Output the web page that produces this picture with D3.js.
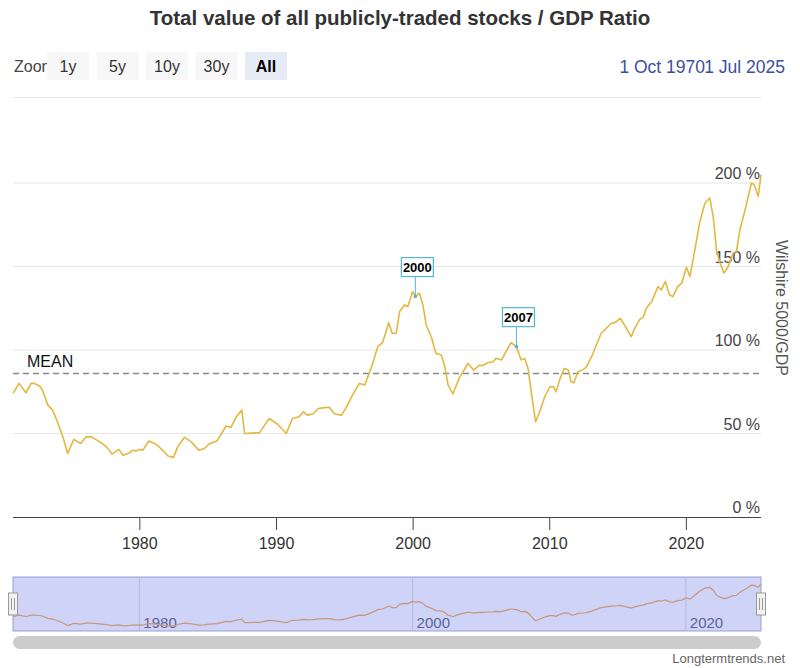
<!DOCTYPE html>
<html>
<head>
<meta charset="utf-8">
<script src="https://cdn.jsdelivr.net/npm/d3@7"></script>
<style>
  body { margin: 0; background: #fff; }
  svg { font-family: "Liberation Sans", Arial, sans-serif; }
</style>
</head>
<body>
<svg width="800" height="668"></svg>
<script>
// quarter-ish decimal years and the ratio in percent
const years = [
  1970.75, 1971.2, 1971.7, 1972.07, 1972.3, 1972.7, 1972.9, 1973.3, 1973.65, 1974.0,
  1974.4, 1974.75, 1975.2, 1975.7, 1976.1, 1976.5, 1977.1, 1977.6, 1978.0, 1978.5,
  1978.8, 1979.3, 1979.5, 1979.75, 1980.0, 1980.25, 1980.7, 1981.2, 1981.7, 1982.1,
  1982.5, 1982.8, 1983.3, 1983.8, 1984.35, 1984.76, 1985.1, 1985.7, 1986.35, 1986.7,
  1987.1, 1987.5, 1987.7, 1988.8, 1989.5, 1990.1, 1990.75, 1991.2, 1991.7, 1992.0,
  1992.3, 1992.7, 1993.1, 1993.55, 1993.9, 1994.3, 1994.8, 1995.1, 1995.6, 1996.1,
  1996.5, 1997.0, 1997.45, 1997.8, 1998.25, 1998.5, 1998.8, 1999.05, 1999.4, 1999.65,
  2000.0, 2000.2, 2000.5, 2000.75, 2001.0, 2001.4, 2001.7, 2002.1, 2002.33, 2002.6,
  2002.95, 2003.4, 2004.05, 2004.46, 2004.9, 2005.1, 2005.5, 2005.9, 2006.1, 2006.5,
  2006.9, 2007.2, 2007.6, 2007.95, 2008.2, 2008.45, 2008.7, 2009.0, 2009.3, 2009.67,
  2010.04, 2010.3, 2010.5, 2010.8, 2011.1, 2011.4, 2011.6, 2011.8, 2012.1, 2012.5,
  2012.7, 2013.1, 2013.45, 2013.8, 2014.55, 2014.8, 2015.2, 2015.5, 2016.0, 2016.26,
  2016.6, 2016.9, 2017.1, 2017.5, 2017.96, 2018.2, 2018.5, 2018.8, 2019.05, 2019.4,
  2019.7, 2020.04, 2020.3, 2020.66, 2021.0, 2021.4, 2021.75, 2022.0, 2022.24, 2022.5,
  2022.8, 2023.1, 2023.46, 2023.7, 2023.96, 2024.4, 2024.8, 2025.0, 2025.3, 2025.5
]
const ratio = [
  74, 80, 74.4, 80, 80, 78.4, 76, 67, 64, 57,
  48, 38, 46.5, 44, 48, 48, 45, 42, 37.7, 40.5,
  37, 38.5, 40, 39.5, 40.5, 40, 45.5, 43.7, 40, 36.5,
  35.7, 42, 47.7, 45, 40, 41, 43.7, 45.7, 54.5, 53.7,
  60, 64, 50, 50.5, 59, 55.7, 50, 59, 60, 63,
  61, 61.7, 65, 65.5, 65.7, 61.7, 61, 65, 73, 80,
  79, 90, 102, 104.4, 116.3, 110, 110, 123, 127, 126,
  135, 132, 134, 127, 115, 107, 98, 97, 91, 79,
  73.7, 83, 92, 88, 91, 90.6, 92.4, 93, 95, 94,
  100, 104.4, 102, 94, 95, 89, 74, 57, 63, 72,
  78, 78, 75, 83, 89, 88, 81, 80.4, 87, 88.4,
  89.6, 96, 103, 110, 116, 116.4, 119, 115, 108, 113,
  118, 120, 125, 129, 138, 136, 141, 133, 132, 138,
  140, 149.5, 144, 160, 176, 188, 191, 180, 160, 152,
  146, 150, 158, 159, 172, 186, 200, 199, 192, 205
]
const meanValue = 86
const yTicks = [0, 50, 100, 150, 200]
const xTicks = [1980, 1990, 2000, 2010, 2020]
const navTicks = [1980, 2000, 2020]
const zoomButtons = ["1y", "5y", "10y", "30y", "All"]
const annotationLabels = ["2000", "2007"]
const annotationYears = [2000.2, 2007.6]

let data = years.map((yr, i) => ({ year: yr, value: ratio[i] }))

let svg = d3.select("svg")

let x = d3.scaleLinear().domain([1970.75, 2025.5]).range([13, 761])
let y = d3.scaleLinear().domain([0, 200]).range([517, 183])

// title
svg.append("text")
  .attr("x", 400).attr("y", 25)
  .attr("text-anchor", "middle")
  .style("font-size", "20.5px").style("font-weight", "bold")
  .style("fill", "#333")
  .text("Total value of all publicly-traded stocks / GDP Ratio")

// range selector
svg.append("text")
  .attr("x", 14).attr("y", 72)
  .style("font-size", "16px").style("fill", "#444")
  .text("Zoom")

zoomButtons.forEach((b, i) => {
  let bx = 47 + i * 49.5
  svg.append("rect")
    .attr("x", bx).attr("y", 52)
    .attr("width", 42).attr("height", 28)
    .style("fill", b === "All" ? "#e6ebf5" : "#f7f7f7")
  svg.append("text")
    .attr("x", bx + 21).attr("y", 72)
    .attr("text-anchor", "middle")
    .style("font-size", "16px")
    .style("font-weight", b === "All" ? "bold" : "normal")
    .style("fill", b === "All" ? "#000" : "#333")
    .text(b)
})

svg.append("text")
  .attr("x", 705).attr("y", 73)
  .attr("text-anchor", "end")
  .style("font-size", "17.5px").style("fill", "#3b4fa0")
  .text("1 Oct 1970")
svg.append("text")
  .attr("x", 785).attr("y", 73)
  .attr("text-anchor", "end")
  .style("font-size", "17.5px").style("fill", "#3b4fa0")
  .text("1 Jul 2025")

svg.append("line")
  .attr("x1", 13).attr("x2", 761)
  .attr("y1", 97.5).attr("y2", 97.5)
  .style("stroke", "#e6e6e6")

// grid + y labels
yTicks.forEach(t => {
  if (t > 0) {
    svg.append("line")
      .attr("x1", 13).attr("x2", 761)
      .attr("y1", y(t)).attr("y2", y(t))
      .style("stroke", "#e6e6e6")
  }
  svg.append("text")
    .attr("x", 760).attr("y", y(t) - 4)
    .attr("text-anchor", "end")
    .style("font-size", "16px").style("fill", "#444")
    .text(t + " %")
})

svg.append("text")
  .attr("transform", "translate(776,308) rotate(90)")
  .attr("text-anchor", "middle")
  .style("font-size", "16px").style("fill", "#555")
  .text("Wilshire 5000/GDP")

// x axis
let xAxis = svg.append("g")
  .attr("transform", `translate(0,${y(0)})`)
  .call(d3.axisBottom(x).tickValues(xTicks).tickFormat(d3.format("d")).tickSize(13).tickPadding(8))
xAxis.select(".domain").attr("d", `M13,0.5H761`).style("stroke", "#444")
xAxis.selectAll(".tick line").style("stroke", "#444")
xAxis.selectAll("text")
  .style("font-size", "16px").style("fill", "#333")
  .style("font-family", "Liberation Sans, Arial, sans-serif")

// mean line
svg.append("line")
  .attr("x1", 13).attr("x2", 761)
  .attr("y1", y(meanValue)).attr("y2", y(meanValue))
  .style("stroke", "#888").style("stroke-width", 1.5)
  .style("stroke-dasharray", "6,4")
svg.append("text")
  .attr("x", 27).attr("y", y(meanValue) - 6)
  .style("font-size", "16px").style("fill", "#111")
  .text("MEAN")

// series
let line = d3.line().x(d => x(d.year)).y(d => y(d.value))
svg.append("path")
  .datum(data)
  .attr("d", line)
  .style("fill", "none")
  .style("stroke", "#e3b740")
  .style("stroke-width", 1.6)
  .style("stroke-linejoin", "round")

// annotations
annotationLabels.forEach((lab, i) => {
  let d = data.find(p => p.year === annotationYears[i])
  let px = x(d.year), py = y(d.value)
  let bw = 32, bh = 19
  let bx = px + 2 - bw / 2, by = py - 20 - bh
  svg.append("line")
    .attr("x1", px).attr("x2", px)
    .attr("y1", by + bh).attr("y2", py)
    .style("stroke", "#55b5d6").style("stroke-width", 1)
  svg.append("circle")
    .attr("cx", px).attr("cy", py).attr("r", 1.8)
    .style("fill", "#55b5d6")
  svg.append("rect")
    .attr("x", bx).attr("y", by)
    .attr("width", bw).attr("height", bh)
    .style("fill", "#fff")
    .style("stroke", "#55b5d6").style("stroke-width", 1.2)
  svg.append("text")
    .attr("x", bx + bw / 2).attr("y", by + 14)
    .attr("text-anchor", "middle")
    .style("font-size", "13px").style("font-weight", "bold")
    .style("fill", "#000")
    .text(lab)
})

// navigator
let ny = d3.scaleLinear().domain([16, 233]).range([631, 577])
svg.append("rect")
  .attr("x", 13).attr("y", 577)
  .attr("width", 748).attr("height", 54)
  .style("fill", "#cfd3f8")
  .style("stroke", "#9aa0cc")
navTicks.forEach(t => {
  svg.append("line")
    .attr("x1", x(t)).attr("x2", x(t))
    .attr("y1", 577).attr("y2", 631)
    .style("stroke", "#b3b9e6")
  svg.append("text")
    .attr("x", x(t) + 4).attr("y", 628)
    .style("font-size", "15px").style("fill", "#5a6494")
    .text(t)
})
let navLine = d3.line().x(d => x(d.year)).y(d => ny(d.value))
svg.append("path")
  .datum(data)
  .attr("d", navLine)
  .style("fill", "none")
  .style("stroke", "#c9977c")
  .style("stroke-width", 1.2)

;[13, 761].forEach(hx => {
  svg.append("rect")
    .attr("x", hx - 4.5).attr("y", 593)
    .attr("width", 9).attr("height", 22)
    .style("fill", "#f2f2f2").style("stroke", "#999")
  ;[-1.5, 1.5].forEach(o => {
    svg.append("line")
      .attr("x1", hx + o).attr("x2", hx + o)
      .attr("y1", 598).attr("y2", 610)
      .style("stroke", "#999")
  })
})

// scrollbar
svg.append("rect")
  .attr("x", 13).attr("y", 636)
  .attr("width", 748).attr("height", 13)
  .attr("rx", 6.5)
  .style("fill", "#cccccc")

svg.append("text")
  .attr("x", 785).attr("y", 663)
  .attr("text-anchor", "end")
  .style("font-size", "13px").style("fill", "#666")
  .text("Longtermtrends.net")
</script>
</body>
</html>
